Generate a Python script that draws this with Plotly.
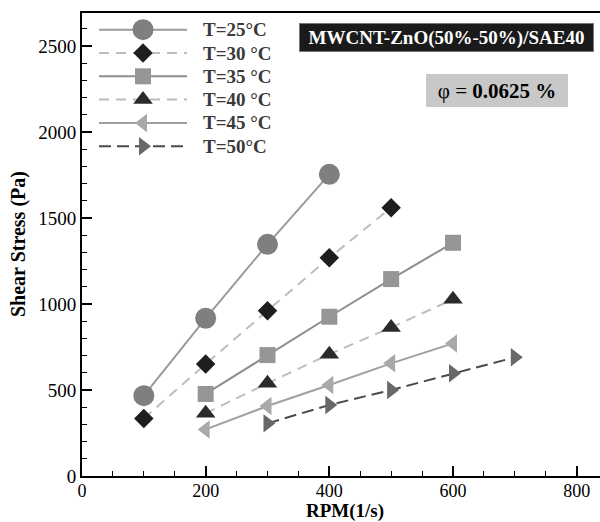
import plotly.graph_objects as go

# ---- data ----
rpm_25 = [100, 200, 300, 400]
tau_25 = [467, 917, 1347, 1754]
rpm_30 = [100, 200, 300, 400, 500]
tau_30 = [335, 651, 961, 1269, 1560]
rpm_35 = [200, 300, 400, 500, 600]
tau_35 = [477, 703, 926, 1145, 1356]
rpm_40 = [200, 300, 400, 500, 600]
tau_40 = [365, 539, 708, 864, 1027]
rpm_45 = [200, 300, 400, 500, 600]
tau_45 = [271, 407, 529, 655, 771]
rpm_50 = [300, 400, 500, 600, 700]
tau_50 = [306, 413, 500, 597, 690]

labels = ["T=25°C", "T=30 °C", "T=35 °C", "T=40 °C", "T=45 °C", "T=50°C"]
x_ticks = [0, 200, 400, 600, 800]
y_ticks = [0, 500, 1000, 1500, 2000, 2500]

series = [
    (rpm_25, tau_25, "circle", 21, "#7f7f7f", "#9a9a9a", "solid"),
    (rpm_30, tau_30, "diamond", 15, "#1e1e1e", "#bdbdbd", "10px,7px"),
    (rpm_35, tau_35, "square", 16, "#969696", "#8e8e8e", "solid"),
    (rpm_40, tau_40, "triangle-up", 17, "#2b2b2b", "#bdbdbd", "10px,7px"),
    (rpm_45, tau_45, "triangle-left", 16, "#a9a9a9", "#a0a0a0", "solid"),
    (rpm_50, tau_50, "triangle-right", 16, "#686868", "#4a4a4a", "12px,6px"),
]

FONT = "Liberation Serif, Times New Roman, serif"
L, T, W, H = 82, 13, 600, 522
B = 46
plot_h = H - T - B

fig = go.Figure()
for xs, ys, sym, sz, mc, lc, dash in series:
    fig.add_trace(go.Scatter(
        x=xs, y=ys, mode="lines+markers", showlegend=False,
        line=dict(color=lc, width=2, dash=dash),
        marker=dict(symbol=sym, size=sz, color=mc, line=dict(width=0)),
        cliponaxis=False,
    ))

# custom legend drawn on an overlay axis measured in pixels
leg_y = [29.7, 53.0, 76.3, 99.6, 122.9, 146.2]
for (xs, ys, sym, sz, mc, lc, dash), ly, lab in zip(series, leg_y, labels):
    fig.add_trace(go.Scatter(
        x=[99, 187], y=[ly, ly], mode="lines", showlegend=False,
        xaxis="x2", yaxis="y2", line=dict(color=lc, width=2, dash=dash),
        hoverinfo="skip",
    ))
    fig.add_trace(go.Scatter(
        x=[143], y=[ly], mode="markers", showlegend=False,
        xaxis="x2", yaxis="y2",
        marker=dict(symbol=sym, size=sz, color=mc, line=dict(width=0)),
        hoverinfo="skip", cliponaxis=False,
    ))
    fig.add_annotation(x=201, y=ly, xref="x2", yref="y2", text="<b>" + lab + "</b>",
                       showarrow=False, xanchor="left", yanchor="middle",
                       font=dict(family=FONT, size=19, color="#3a3a3a"))

axis_common = dict(
    showline=True, linecolor="black", linewidth=2,
    ticks="inside", ticklen=10, tickwidth=2, tickcolor="black",
    showgrid=False, zeroline=False,
)

fig.update_layout(
    width=W, height=H,
    margin=dict(l=L, r=0, t=T, b=B, pad=0),
    paper_bgcolor="white", plot_bgcolor="white",
    xaxis=dict(range=[0, (W - L) / 0.6183], tickvals=x_ticks, mirror=True,
               tickfont=dict(family=FONT, size=18, color="black"),
               ticklabelstandoff=-3,
               minor=dict(dtick=50, ticks="inside", ticklen=5, tickwidth=1, tickcolor="black"),
               **axis_common),
    yaxis=dict(range=[0, plot_h / 0.172], tickvals=y_ticks, mirror=False,
               tickfont=dict(family=FONT, size=19, color="black"),
               minor=dict(dtick=100, ticks="inside", ticklen=5, tickwidth=1, tickcolor="black"),
               **axis_common),
    xaxis2=dict(overlaying="x", range=[L, W], visible=False, fixedrange=True),
    yaxis2=dict(overlaying="y", range=[H - B, T], visible=False, fixedrange=True),
)

def px(xp):
    return (xp - L) / (W - L)

def py(yp):
    return (H - B - yp) / plot_h

# axis titles
fig.add_annotation(x=px(345), y=py(510.5), xref="paper", yref="paper",
                   text="<b>RPM(1/s)</b>", showarrow=False,
                   xanchor="center", yanchor="middle",
                   font=dict(family=FONT, size=19, color="black"))
fig.add_annotation(x=px(18), y=py(244), xref="paper", yref="paper",
                   text="<b>Shear Stress (Pa)</b>", showarrow=False, textangle=-90,
                   xanchor="center", yanchor="middle",
                   font=dict(family=FONT, size=20, color="black"))

# boxed labels
fig.add_annotation(x=px(446.4), y=py(37.2), xref="paper", yref="paper",
                   text="<b>MWCNT-ZnO(50%-50%)/SAE40</b>", showarrow=False,
                   xanchor="center", yanchor="middle", width=291, height=25,
                   bgcolor="#1a1a1a", bordercolor="#777777", borderwidth=1, borderpad=1,
                   font=dict(family=FONT, size=19, color="white"))
fig.add_annotation(x=px(497.3), y=py(90.7), xref="paper", yref="paper",
                   text="φ = <b>0.0625 %</b>", showarrow=False,
                   xanchor="center", yanchor="middle", width=140, height=31,
                   bgcolor="#c8c8c8", borderwidth=0, borderpad=1,
                   font=dict(family=FONT, size=21, color="black"))

fig.write_html("out.html")
